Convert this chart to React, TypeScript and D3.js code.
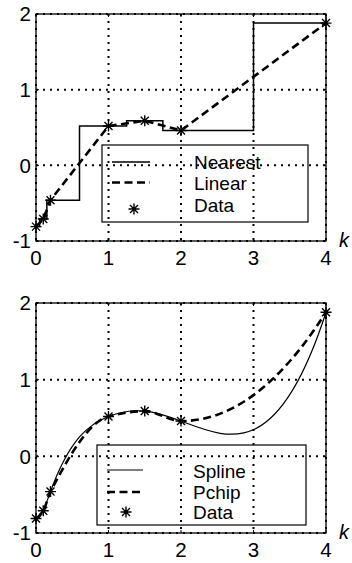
import React, { useEffect, useRef } from 'react';
import * as d3 from 'd3';

// sample points (k, value)
const kData = [0, 0.1, 0.2, 1, 1.5, 2, 4];
const yData = [-0.81, -0.71, -0.46, 0.52, 0.59, 0.46, 1.88];
const xTicks = [0, 1, 2, 3, 4];
const yTicks = [-1, 0, 1, 2];
const topLegend = ['Nearest', 'Linear', 'Data'];
const bottomLegend = ['Spline', 'Pchip', 'Data'];

const FONT = '"Liberation Sans", Arial, Helvetica, sans-serif';

// MATLAB style pchip derivatives
function pchipSlopes(x: number[], y: number[]) {
  const n = x.length;
  const h = d3.range(n - 1).map(i => x[i + 1] - x[i]);
  const del = h.map((hi, i) => (y[i + 1] - y[i]) / hi);
  const d = new Array(n).fill(0);
  for (let i = 1; i < n - 1; i++) {
    if (del[i - 1] * del[i] > 0) {
      const w1 = 2 * h[i] + h[i - 1];
      const w2 = h[i] + 2 * h[i - 1];
      d[i] = (w1 + w2) / (w1 / del[i - 1] + w2 / del[i]);
    }
  }
  const end = (h0: number, h1: number, d0: number, d1: number) => {
    let s = ((2 * h0 + h1) * d0 - h0 * d1) / (h0 + h1);
    if (Math.sign(s) !== Math.sign(d0)) s = 0;
    else if (Math.sign(d0) !== Math.sign(d1) && Math.abs(s) > Math.abs(3 * d0)) s = 3 * d0;
    return s;
  };
  d[0] = end(h[0], h[1], del[0], del[1]);
  d[n - 1] = end(h[n - 2], h[n - 3], del[n - 2], del[n - 3]);
  return d;
}

// not-a-knot cubic spline derivatives (like MATLAB spline)
function splineSlopes(x: number[], y: number[]) {
  const n = x.length;
  const h = d3.range(n - 1).map(i => x[i + 1] - x[i]);
  const del = h.map((hi, i) => (y[i + 1] - y[i]) / hi);
  const A = d3.range(n).map(() => new Array(n).fill(0));
  const b = new Array(n).fill(0);
  A[0][0] = h[1]; A[0][1] = -(h[0] + h[1]); A[0][2] = h[0];
  for (let i = 1; i < n - 1; i++) {
    A[i][i - 1] = h[i - 1];
    A[i][i] = 2 * (h[i - 1] + h[i]);
    A[i][i + 1] = h[i];
    b[i] = 6 * (del[i] - del[i - 1]);
  }
  A[n - 1][n - 3] = h[n - 2]; A[n - 1][n - 2] = -(h[n - 3] + h[n - 2]); A[n - 1][n - 1] = h[n - 3];
  // gauss elimination
  for (let c = 0; c < n; c++) {
    let p = c;
    for (let r = c + 1; r < n; r++) if (Math.abs(A[r][c]) > Math.abs(A[p][c])) p = r;
    [A[c], A[p]] = [A[p], A[c]];
    [b[c], b[p]] = [b[p], b[c]];
    for (let r = c + 1; r < n; r++) {
      const f = A[r][c] / A[c][c];
      for (let k = c; k < n; k++) A[r][k] -= f * A[c][k];
      b[r] -= f * b[c];
    }
  }
  const M = new Array(n).fill(0);
  for (let r = n - 1; r >= 0; r--) {
    let s = b[r];
    for (let k = r + 1; k < n; k++) s -= A[r][k] * M[k];
    M[r] = s / A[r][r];
  }
  const d = new Array(n).fill(0);
  for (let i = 0; i < n - 1; i++) d[i] = del[i] - h[i] * (2 * M[i] + M[i + 1]) / 6;
  d[n - 1] = del[n - 2] + h[n - 2] * (M[n - 2] + 2 * M[n - 1]) / 6;
  return d;
}

function hermitePath(xs: number[], ys: number[], d: number[], sx: any, sy: any) {
  const p = d3.path();
  p.moveTo(sx(xs[0]), sy(ys[0]));
  for (let i = 0; i < xs.length - 1; i++) {
    const h = xs[i + 1] - xs[i];
    p.bezierCurveTo(
      sx(xs[i] + h / 3), sy(ys[i] + d[i] * h / 3),
      sx(xs[i + 1] - h / 3), sy(ys[i + 1] - d[i + 1] * h / 3),
      sx(xs[i + 1]), sy(ys[i + 1])
    );
  }
  return p.toString();
}

const STAR = 'M-5.5,0H5.5M0,-5.5V5.5M-4,-4L4,4M-4,4L4,-4';
const DASH = '8 4.5';

export default () => {
  const svgRef = useRef<SVGSVGElement>(null);

  useEffect(() => {
    if (!svgRef.current) return;
    const svg = d3.select(svgRef.current);
    svg.selectAll('*').remove();

    const panel = (top: number, bottom: number, isTop: boolean) => {
      const left = 36, right = 326;
      const x = d3.scaleLinear().domain([0, 4]).range([left, right]);
      const y = d3.scaleLinear().domain([-1, 2]).range([bottom, top]);
      const g = svg.append('g');

      // grid
      g.selectAll('.gx').data(xTicks).enter().append('line')
        .attr('x1', d => x(d)).attr('x2', d => x(d))
        .attr('y1', top).attr('y2', bottom)
        .attr('stroke', '#000').attr('stroke-width', 2).attr('stroke-dasharray', '2 5');
      g.selectAll('.gy').data(yTicks).enter().append('line')
        .attr('y1', d => y(d)).attr('y2', d => y(d))
        .attr('x1', left).attr('x2', right)
        .attr('stroke', '#000').attr('stroke-width', 2).attr('stroke-dasharray', '2 5');

      // box
      g.append('rect').attr('x', left).attr('y', top)
        .attr('width', right - left).attr('height', bottom - top)
        .attr('fill', 'none').attr('stroke', '#000').attr('stroke-width', 1.3);

      // ticks inward
      xTicks.forEach(t => {
        g.append('line').attr('x1', x(t)).attr('x2', x(t)).attr('y1', bottom).attr('y2', bottom - 3).attr('stroke', '#000');
        g.append('line').attr('x1', x(t)).attr('x2', x(t)).attr('y1', top).attr('y2', top + 3).attr('stroke', '#000');
      });
      yTicks.forEach(t => {
        g.append('line').attr('x1', left).attr('x2', left + 3).attr('y1', y(t)).attr('y2', y(t)).attr('stroke', '#000');
        g.append('line').attr('x1', right).attr('x2', right - 3).attr('y1', y(t)).attr('y2', y(t)).attr('stroke', '#000');
      });

      // tick labels
      g.selectAll('.xl').data(xTicks).enter().append('text')
        .attr('x', d => x(d)).attr('y', bottom + 24)
        .attr('text-anchor', 'middle').attr('font-family', FONT).attr('font-size', 20.5)
        .text(d => String(d));
      g.selectAll('.yl').data(yTicks).enter().append('text')
        .attr('x', 31).attr('y', d => y(d)).attr('dy', '0.36em')
        .attr('text-anchor', 'end').attr('font-family', FONT).attr('font-size', 20.5)
        .text(d => (d < 0 ? '-' + Math.abs(d) : String(d)));
      g.append('text').attr('x', 344).attr('y', bottom + 6)
        .attr('text-anchor', 'middle').attr('font-family', FONT).attr('font-size', 20)
        .attr('font-style', 'italic').text('k');

      const pts = kData.map((k, i) => [k, yData[i]] as [number, number]);

      if (isTop) {
        const step = d3.line().x(d => x(d[0])).y(d => y(d[1])).curve(d3.curveStep);
        g.append('path').attr('d', step(pts)).attr('fill', 'none')
          .attr('stroke', '#000').attr('stroke-width', 1.5);
        const lin = d3.line().x(d => x(d[0])).y(d => y(d[1]));
        g.append('path').attr('d', lin(pts)).attr('fill', 'none')
          .attr('stroke', '#000').attr('stroke-width', 2.6).attr('stroke-dasharray', DASH);
      } else {
        g.append('path').attr('d', hermitePath(kData, yData, splineSlopes(kData, yData), x, y))
          .attr('fill', 'none').attr('stroke', '#000').attr('stroke-width', 1.2);
        g.append('path').attr('d', hermitePath(kData, yData, pchipSlopes(kData, yData), x, y))
          .attr('fill', 'none').attr('stroke', '#000').attr('stroke-width', 2.6).attr('stroke-dasharray', DASH);
      }

      g.selectAll('.star').data(pts).enter().append('path')
        .attr('transform', d => `translate(${x(d[0])},${y(d[1])})`)
        .attr('d', STAR).attr('fill', 'none').attr('stroke', '#000').attr('stroke-width', 1.4);

      // legend
      const L = isTop
        ? { x0: 102, x1: 308, y0: 145, y1: 222, lx0: 112, lx1: 150, sx: 134, tx: 194, rows: [162, 182.5, 209], base: [168.5, 190, 212], labels: topLegend }
        : { x0: 97, x1: 306, y0: 445, y1: 525, lx0: 107, lx1: 143, sx: 126, tx: 193, rows: [470, 492, 512], base: [478, 499, 519], labels: bottomLegend };
      g.append('rect').attr('x', L.x0).attr('y', L.y0)
        .attr('width', L.x1 - L.x0).attr('height', L.y1 - L.y0)
        .attr('fill', 'none').attr('stroke', '#000').attr('stroke-width', 1.2);
      g.append('line').attr('x1', L.lx0).attr('x2', L.lx1).attr('y1', L.rows[0]).attr('y2', L.rows[0])
        .attr('stroke', '#000').attr('stroke-width', isTop ? 1.5 : 1.2);
      g.append('line').attr('x1', L.lx0).attr('x2', L.lx1).attr('y1', L.rows[1]).attr('y2', L.rows[1])
        .attr('stroke', '#000').attr('stroke-width', 2.6).attr('stroke-dasharray', DASH);
      g.append('path').attr('transform', `translate(${L.sx},${L.rows[2]})`)
        .attr('d', STAR).attr('fill', 'none').attr('stroke', '#000').attr('stroke-width', 1.4);
      g.selectAll('.lt').data(L.labels).enter().append('text')
        .attr('x', L.tx).attr('y', (d, i) => L.base[i])
        .attr('font-family', FONT).attr('font-size', 19)
        .text(d => d);
    };

    panel(14, 241, true);
    panel(303, 533, false);
  }, []);

  return (
    <svg ref={svgRef} width={352} height={563}
      style={{ position: 'absolute', left: 0, top: 0, background: '#fff' }} />
  );
};
